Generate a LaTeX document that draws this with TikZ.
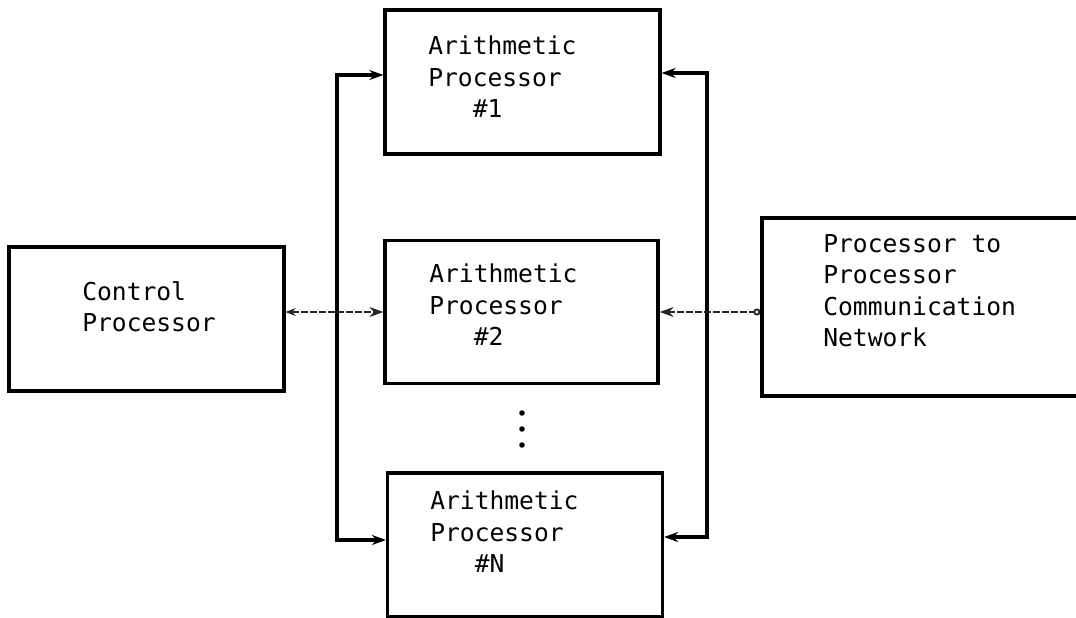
\documentclass[tikz,border=0pt]{standalone}
\usepackage{fontspec}
\setmonofont{DejaVu Sans Mono}
\usetikzlibrary{arrows.meta}
\tikzset{
  unit/.style={draw, line width=2.3pt, minimum width=2.75in, minimum height=1.44in, inner sep=0pt},
  caption/.style={anchor=north west, inner sep=0pt, align=left, font=\ttfamily\fontsize{17.8}{22.7}\selectfont},
  link/.style={line width=2.3pt, {Stealth[length=0.14in,width=0.1in]}-{Stealth[length=0.14in,width=0.1in]}},
  tie/.style={line width=1.3pt, black!85, dash pattern=on 5pt off 1.5pt}
}

\begin{document}
\begin{tikzpicture}[x=1in,y=1in]
\useasboundingbox (0,-6.18) rectangle (10.76,0);
% boxes
\node[unit] (ctrl) at (1.465,-3.19) {};
\node[unit] (ap1) at (5.225,-0.82) {};
\node[unit, minimum width=2.73in, minimum height=1.43in] (ap2) at (5.215,-3.12) {};
\node[unit] (apN) at (5.25,-5.45) {};
\node[unit, minimum width=3.28in, minimum height=1.78in] (net) at (9.26,-3.07) {};
% texts
\node[caption] (ctrl-text) at (0.82,-2.81) {Control\\Processor};
\node[caption] (ap1-text) at (4.28,-0.36) {Arithmetic\\Processor\\\ \ \ \#1};
\node[caption] (ap2-text) at (4.29,-2.64) {Arithmetic\\Processor\\\ \ \ \#2};
\node[caption] (apN-text) at (4.30,-4.91) {Arithmetic\\Processor\\\ \ \ \#N};
\node[caption] (net-text) at (8.23,-2.34) {Processor to\\Processor\\Communication\\Network};
% buses
\coordinate (ltop) at (3.37,-0.75);
\coordinate (lbot) at (3.37,-5.40);
\coordinate (rtop) at (7.07,-0.73);
\coordinate (rbot) at (7.07,-5.37);
\draw[link] (ltop -| ap1.west) -- (ltop) -- (lbot) -- (lbot -| apN.west);
\draw[link] (rtop -| ap1.east) -- (rtop) -- (rbot) -- (rbot -| apN.east);
% middle connections
\draw[tie, {Stealth[length=0.1in,width=0.08in]}-{Stealth[length=0.14in,width=0.1in]}] (ap2.west -| ctrl.east) -- (ap2.west);
\draw[tie, {Stealth[length=0.14in,width=0.1in]}-{Circle[open,length=0.07in]}] (ap2.east) -- (ap2.east -| net.west);
% dots
\foreach \y in {4.13,4.29,4.45}
  \fill (5.22,-\y) circle (0.028);
\end{tikzpicture}
\end{document}
